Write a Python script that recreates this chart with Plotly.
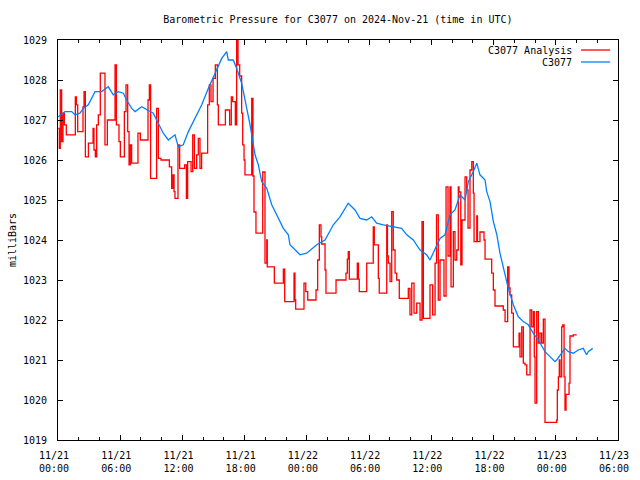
import pandas as pd
import plotly.graph_objects as go

START = "2024-11-21 00:00"

# C3077 Analysis (red) : hours since start, millibars
analysis_hours = [0.03, 0.13, 0.22, 0.35, 0.48, 0.61, 0.80, 1.67, 1.77, 1.90, 2.41, 2.51, 2.64, 2.93,
                  3.38, 3.47, 3.60, 3.73, 3.89, 4.08, 4.53, 4.76, 5.50, 5.63, 5.88, 6.01, 6.40, 6.56,
                  6.72, 6.85, 6.97, 7.10, 7.71, 7.94, 8.68, 8.81, 8.93, 9.51, 9.68, 9.93, 10.74, 10.96,
                  11.09, 11.19, 11.28, 11.57, 11.73, 12.21, 12.38, 12.50, 12.83, 12.99, 13.15, 13.37,
                  13.53, 13.69, 13.85, 14.43, 14.59, 14.75, 14.95, 15.17, 15.37, 15.46, 16.14, 16.55,
                  16.71, 16.84, 17.10, 17.23, 17.36, 17.52, 17.71, 17.81, 17.94, 18.03, 18.68, 18.80,
                  18.90, 19.09, 19.74, 19.96, 20.13, 20.18, 20.86, 21.73, 21.86, 22.76, 22.85, 22.92,
                  23.72, 23.89, 24.08, 24.88, 25.04, 25.20, 25.36, 25.43, 25.75, 25.84, 26.81, 27.77,
                  27.90, 27.99, 28.09, 28.86, 28.97, 29.05, 29.77, 30.40, 30.50, 30.89, 30.98, 31.70,
                  31.77, 31.85, 32.02, 32.18, 32.33, 32.50, 32.66, 32.91, 33.78, 33.94, 34.11, 34.33,
                  34.59, 34.91, 35.10, 35.23, 35.87, 36.13, 36.36, 36.50, 36.67, 36.84, 37.22, 37.42,
                  37.61, 37.80, 37.90, 38.12, 38.28, 38.45, 38.60, 38.67, 38.84, 38.96, 39.25, 39.41,
                  39.54, 39.73, 39.90, 40.05, 40.12, 40.38, 40.45, 40.69, 41.01, 41.08, 41.18, 41.82,
                  41.98, 42.14, 42.94, 43.11, 43.36, 43.49, 43.59, 43.75, 43.91, 44.46, 44.55, 44.72,
                  44.87, 45.03, 45.20, 45.52, 45.68, 45.84, 45.93, 46.00, 46.16, 46.32, 46.48, 46.64,
                  46.80, 46.96, 48.09, 48.15, 48.25, 48.34, 48.41, 48.57, 48.67, 48.80, 48.89, 48.99,
                  49.28, 49.37, 49.69, 50.02]
analysis_mb = [1026.79, 1026.29, 1027.75, 1026.46, 1027.17, 1026.88, 1026.63, 1027.58, 1027.38, 1026.71,
               1027.33, 1027.71, 1026.08, 1026.42, 1026.79, 1026.25, 1026.08, 1026.88, 1027.13, 1028.17,
               1026.38, 1027.00, 1028.38, 1026.88, 1026.46, 1026.08, 1027.21, 1027.88, 1026.71, 1025.88,
               1026.38, 1025.92, 1026.67, 1026.50, 1027.50, 1027.88, 1025.54, 1027.29, 1026.04, 1026.00,
               1025.83, 1025.29, 1025.63, 1025.21, 1025.04, 1026.38, 1025.79, 1025.88, 1025.04, 1025.96,
               1025.71, 1026.63, 1025.79, 1026.13, 1026.54, 1025.79, 1026.17, 1027.38, 1027.88, 1027.46,
               1028.04, 1028.38, 1027.38, 1026.88, 1027.25, 1026.88, 1027.58, 1027.46, 1026.88, 1029.00,
               1028.38, 1028.10, 1027.17, 1026.38, 1026.00, 1025.63, 1027.54, 1025.60, 1024.70, 1024.17,
               1025.70, 1023.42, 1024.00, 1023.33, 1022.92, 1023.27, 1022.46, 1023.17, 1022.50, 1022.27,
               1022.92, 1022.71, 1022.50, 1022.75, 1023.50, 1024.38, 1024.08, 1023.90, 1023.25, 1022.67,
               1023.00, 1023.17, 1023.52, 1023.71, 1023.02, 1023.42, 1023.02, 1022.71, 1023.42, 1024.33,
               1023.88, 1023.04, 1022.67, 1024.38, 1023.60, 1023.42, 1022.96, 1024.71, 1023.75, 1023.17,
               1023.00, 1022.54, 1022.79, 1022.13, 1022.92, 1022.17, 1022.42, 1022.00, 1024.46, 1022.04,
               1022.88, 1022.13, 1023.42, 1024.63, 1022.50, 1023.50, 1022.60, 1025.33, 1023.60, 1025.33,
               1022.83, 1024.21, 1023.50, 1023.75, 1025.33, 1025.20, 1023.38, 1024.50, 1025.58, 1025.25,
               1024.30, 1025.75, 1025.96, 1025.17, 1023.96, 1024.60, 1023.96, 1024.20, 1024.20, 1024.00,
               1023.52, 1023.17, 1022.75, 1022.35, 1022.25, 1021.96, 1023.33, 1022.80, 1022.63, 1022.17,
               1021.33, 1021.67, 1021.08, 1021.83, 1020.92, 1020.88, 1020.63, 1022.25, 1021.83, 1022.21,
               1021.08, 1019.92, 1022.21, 1021.42, 1021.67, 1021.42, 1022.02, 1019.44, 1019.50, 1020.25,
               1020.58, 1021.00, 1020.58, 1021.83, 1021.88, 1020.58, 1019.75, 1020.14, 1020.42, 1021.60,
               1021.63, 1021.63]

# C3077 station observations (blue)
station_hours = [0.03, 0.68, 1.32, 1.64, 2.12, 2.44, 2.92, 3.57, 4.21, 4.85, 5.33, 5.81, 6.30, 6.62,
                 7.11, 7.43, 8.07, 8.71, 9.19, 9.67, 10.15, 10.64, 11.28, 11.60, 12.08, 12.57, 13.21,
                 13.86, 14.49, 15.14, 15.79, 16.27, 16.42, 16.90, 17.23, 17.71, 18.03, 18.52, 19.00,
                 19.32, 19.64, 20.13, 20.61, 21.24, 21.73, 22.21, 22.37, 23.34, 23.98, 24.95, 25.75,
                 26.55, 27.19, 27.99, 28.64, 29.12, 29.77, 30.25, 30.73, 31.37, 32.33, 33.14, 33.63,
                 34.26, 34.91, 35.55, 35.87, 36.36, 36.84, 37.32, 37.80, 38.28, 38.77, 39.25, 39.57,
                 40.05, 40.38, 40.69, 41.18, 41.34, 41.66, 41.98, 42.30, 42.62, 43.11, 43.42, 43.91,
                 44.39, 44.87, 45.35, 45.83, 46.32, 46.96, 47.44, 47.93, 48.09, 48.57, 48.89, 49.21,
                 49.69, 50.17, 50.65, 50.97, 51.13, 51.56]
station_mb = [1027.08, 1027.21, 1027.21, 1027.13, 1027.17, 1027.29, 1027.38, 1027.71, 1027.71, 1027.83,
              1027.63, 1027.71, 1027.67, 1027.50, 1027.29, 1027.21, 1027.33, 1027.25, 1027.17, 1026.92,
              1026.67, 1026.50, 1026.63, 1026.33, 1026.38, 1026.71, 1027.04, 1027.38, 1027.79, 1028.17,
              1028.54, 1028.71, 1028.50, 1028.50, 1028.29, 1027.92, 1027.54, 1026.88, 1026.13, 1025.88,
              1025.46, 1025.29, 1024.88, 1024.54, 1024.29, 1024.13, 1023.88, 1023.63, 1023.67, 1023.88,
              1024.00, 1024.38, 1024.58, 1024.92, 1024.75, 1024.54, 1024.50, 1024.58, 1024.42, 1024.38,
              1024.33, 1024.29, 1024.13, 1024.00, 1023.75, 1023.63, 1023.50, 1023.79, 1024.04, 1024.13,
              1024.63, 1024.75, 1025.13, 1025.00, 1025.46, 1025.71, 1025.92, 1025.63, 1025.50, 1025.21,
              1024.96, 1024.46, 1024.15, 1023.67, 1023.08, 1022.79, 1022.38, 1022.08, 1021.96, 1021.88,
              1021.67, 1021.50, 1021.21, 1021.08, 1020.96, 1021.00, 1021.17, 1021.29, 1021.21, 1021.17,
              1021.25, 1021.29, 1021.13, 1021.21, 1021.29]

series_names = ["C3077 Analysis", "C3077"]
series_colors = ["#ff0000", "#0080ff"]

t0 = pd.Timestamp(START)
ax = [t0 + pd.Timedelta(hours=h) for h in analysis_hours]
sx = [t0 + pd.Timedelta(hours=h) for h in station_hours]

FONT = "DejaVu Sans Mono"

fig = go.Figure()
fig.add_trace(go.Scatter(x=ax, y=analysis_mb, mode="lines", line=dict(color=series_colors[0], width=1.3, shape="hv"),
                         name=series_names[0]))
fig.add_trace(go.Scatter(x=sx, y=station_mb, mode="lines", line=dict(color=series_colors[1], width=1.3),
                         name=series_names[1]))

# Legend drawn gnuplot style (text right-aligned, sample on right)
for i, (nm, col) in enumerate(zip(series_names, series_colors)):
    yy = 0.975 - i * 0.03
    fig.add_annotation(x=0.921, y=yy, xref="paper", yref="paper", text=nm, showarrow=False,
                       xanchor="right", yanchor="middle", font=dict(family=FONT, size=10, color="black"))
    fig.add_shape(type="line", xref="paper", yref="paper", x0=0.934, x1=0.986, y0=yy, y1=yy,
                  line=dict(color=col, width=1.3))

fig.update_layout(
    width=640, height=480,
    margin=dict(l=58, r=22, t=40, b=40, autoexpand=False),
    paper_bgcolor="white", plot_bgcolor="white",
    showlegend=False,
    font=dict(family=FONT, size=10, color="black"),
    title=dict(text="Barometric Pressure for C3077 on 2024-Nov-21 (time in UTC)", x=0.528, xanchor="center",
               y=0.959, yanchor="middle", font=dict(family=FONT, size=10, color="black")),
)
fig.update_xaxes(
    type="date", range=["2024-11-21 00:00", "2024-11-23 06:00"], automargin=False,
    dtick=6 * 3600 * 1000, tick0="2024-11-21 00:00", tickformat="%m/%d<br>%H:%M",
    ticks="inside", ticklen=5, tickcolor="black", showline=True, linecolor="black", linewidth=1,
    mirror="ticks", showgrid=False, zeroline=False,
    minor=dict(dtick=2 * 3600 * 1000, ticks="inside", ticklen=3, tickcolor="black", showgrid=False),
    tickfont=dict(family=FONT, size=10), ticklabelstandoff=6, ticklabelshift=-4,
)
fig.update_yaxes(
    range=[1019, 1029], dtick=1, ticks="inside", ticklen=5, tickcolor="black", automargin=False,
    showline=True, linecolor="black", linewidth=1, mirror="ticks", showgrid=False, zeroline=False,
    tickformat="d", tickfont=dict(family=FONT, size=10), ticklabelstandoff=8,
    title=dict(text="milliBars", font=dict(family=FONT, size=10), standoff=4),
)

fig.write_html("out.html", config={"displayModeBar": False},
               post_script="document.body.style.margin='0';")
